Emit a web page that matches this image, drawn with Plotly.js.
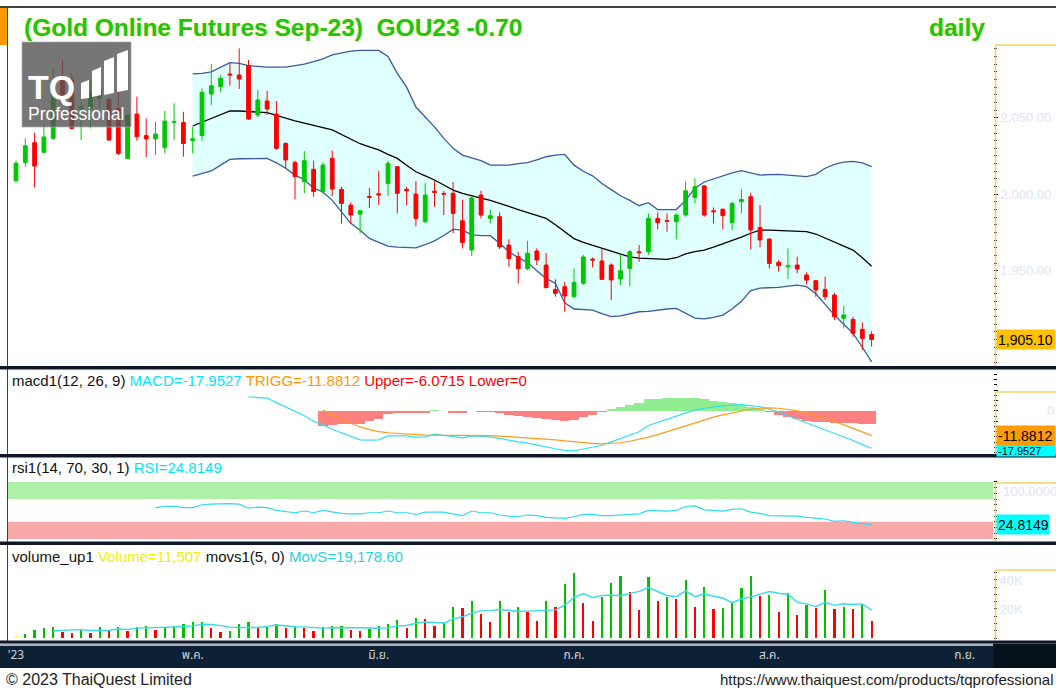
<!DOCTYPE html>
<html><head><meta charset="utf-8">
<script src="https://cdn.plot.ly/plotly-3.0.1.min.js"></script>
<style>html,body{margin:0;padding:0;background:#fff;overflow:hidden}#chart{width:1056px;height:688px}</style>
</head><body><div id="chart"></div>
<script>
// ---------- data ----------
const monthLabels = ["'23","พ.ค.","มิ.ย.","ก.ค.","ส.ค.","ก.ย."];
const monthStartIdx = [0,19,39,60,81,102];

const open = [2008.8,2020.8,2033.7,2027.4,2036.5,2075.7,2074.7,2055.9,2056.1,2062.7,
2062.0,2056.1,2023.4,2052.4,2038.3,2036.1,2030.4,2047.0,2046.8,2035.0,
2038.3,2065.5,2070.3,2078.6,2077.9,2084.0,2051.8,2060.9,2052.4,2033.2,
2020.8,2008.2,2016.3,2001.7,2023.4,2003.2,1992.9,1987.0,1998.6,2000.3,
2007.1,2018.0,2003.2,2000.1,1982.0,2002.0,2000.5,2000.6,1982.6,1963.5,
1999.5,1984.2,1985.3,1966.8,1959.2,1951.3,1962.9,1953.7,1937.8,1939.6,
1933.0,1941.8,1957.6,1956.4,1953.7,1944.6,1951.5,1962.4,1962.4,1984.2,
1982.7,1982.0,1986.4,1997.9,2005.4,1989.2,1990.1,1981.4,1995.1,1998.4,
1978.3,1970.7,1955.5,1952.6,1953.7,1947.2,1943.5,1937.8,1934.1,1918.9,
1918.2,1911.7,1908.3];
const high = [2021.9,2036.5,2040.2,2045.2,2082.3,2087.3,2079.0,2060.5,2074.7,2082.3,
2063.0,2068.1,2052.4,2063.8,2049.6,2047.4,2054.4,2059.4,2053.9,2044.0,
2069.2,2085.1,2077.9,2085.5,2095.3,2087.7,2068.1,2067.5,2060.9,2034.0,
2021.9,2028.2,2021.9,2020.8,2028.5,2004.9,1994.7,1989.7,2004.0,2015.3,
2021.9,2018.4,2004.9,2008.6,2007.5,2008.8,2002.1,2008.0,1996.5,1998.6,
2002.3,1989.7,1988.2,1970.5,1962.4,1969.6,1964.6,1961.6,1944.4,1942.8,
1951.5,1960.3,1958.7,1964.0,1954.8,1960.7,1963.5,1966.8,1987.5,1988.2,
1987.5,1987.5,2008.4,2010.4,2006.0,1991.4,1990.8,1995.1,2003.2,2001.0,
1992.9,1971.2,1957.0,1964.6,1959.2,1948.9,1943.9,1946.1,1935.6,1927.0,
1919.9,1916.2,1910.5];
const low = [2007.5,2018.0,2004.5,2026.7,2035.4,2059.4,2042.4,2035.4,2043.0,2056.1,
2035.0,2025.6,2023.0,2035.0,2024.1,2025.6,2026.7,2035.4,2024.5,2026.7,
2035.0,2058.3,2066.6,2070.9,2068.8,2048.5,2050.2,2051.8,2028.9,2016.9,
1996.6,2000.6,1998.4,2000.1,1998.8,1980.9,1980.9,1974.4,1991.0,1993.0,
1998.8,1987.5,1992.9,1979.0,1981.4,1991.8,1986.4,1974.4,1964.6,1959.6,
1984.2,1981.0,1964.2,1952.6,1941.7,1950.5,1953.7,1938.5,1933.0,1923.2,
1932.5,1940.7,1952.2,1943.9,1930.8,1940.7,1940.0,1955.9,1960.3,1977.0,
1975.5,1970.5,1985.3,1994.0,1985.3,1981.0,1977.0,1976.6,1987.5,1964.0,
1965.3,1951.5,1949.4,1944.6,1948.3,1941.1,1933.0,1930.8,1917.8,1912.3,
1906.9,1898.2,1900.5];
const close = [2020.2,2031.7,2018.4,2037.4,2067.0,2060.5,2043.0,2057.2,2066.0,2068.1,
2035.4,2026.7,2051.8,2037.6,2036.1,2039.4,2047.8,2047.4,2033.2,2036.3,
2066.6,2070.9,2075.7,2077.9,2075.3,2049.2,2061.6,2055.7,2030.0,2022.4,
2011.5,2021.9,2001.7,2019.1,2003.4,1994.0,1986.4,1989.2,1998.0,1999.6,
2020.2,2000.6,2002.3,1984.2,1999.5,2001.2,2000.1,1987.5,1968.5,1997.5,
1986.4,1986.0,1965.7,1958.0,1951.3,1961.4,1957.0,1939.0,1935.2,1933.5,
1942.4,1959.0,1957.0,1944.4,1944.0,1950.0,1962.4,1961.8,1984.2,1981.4,
1982.3,1986.4,2002.2,2004.9,1986.4,1988.6,1986.0,1994.0,1996.6,1976.6,
1970.1,1954.8,1953.3,1953.2,1951.1,1943.9,1937.4,1933.0,1920.0,1921.1,
1909.1,1905.8,1905.1];

const bbStart = 19;
const bbUpper = [2078.6,2079,2080,2083,2086,2085.5,2084,2083.5,2083,2083,
2083,2084,2085,2086.6,2088.5,2091,2092.5,2093.5,2094,2094,
2094,2090,2079,2070,2057,2050.5,2044,2036.5,2030,2025.6,
2024,2022,2019,2019,2019,2020,2020.6,2022.5,2024.5,2025.5,
2026,2019,2015,2012,2007,2003,1999,1996,1992.5,1994.5,
1990,1990,1990,1996,2004,2008,2010,2012,2014,2015.4,
2014,2012.5,2012.8,2013,2012.5,2012,2011.5,2013,2017,2019.5,
2021,2021.5,2020.5,2018];
const bbMiddle = [2044.6,2047,2049.6,2052,2054.4,2054.4,2054,2053.6,2053.3,2051.5,
2049.6,2048,2046.5,2045.2,2043.5,2042,2039,2035.5,2033,2031,
2029,2026,2023.4,2019,2014.7,2012,2009.3,2006,2002.7,2000.6,
1998.8,1997.5,1996,1994.2,1992,1990,1988,1986,1984.2,1980,
1975.5,1971,1968.5,1966.5,1964.5,1962.5,1960.5,1959,1958.2,1958,
1957.6,1957.4,1958.5,1961,1962.5,1963.5,1965.5,1967.5,1970,1972,
1974.5,1976.6,1976.5,1976.2,1976,1975.8,1975.5,1974,1971.5,1968.5,
1966,1963.5,1958.5,1953];
const bbLower = [2011.9,2013.5,2015.2,2019,2022.8,2023.2,2023.4,2023.4,2023.4,2020.5,
2017,2012.5,2009.5,2004,2001.5,1996,1988.5,1981,1976.5,1971.1,
1968.5,1966.1,1965.5,1965.2,1965,1967,1969.5,1973,1977,1976.5,
1973.5,1973,1972.9,1968,1962.4,1958.5,1955.5,1950,1945,1941.7,
1929,1925,1924.5,1924.3,1922,1920,1920.5,1922,1923.2,1923.5,
1924.5,1925,1925.4,1922,1919,1918.5,1919.5,1921,1925,1930,
1937,1938.7,1939,1939.1,1940,1940.6,1939.6,1935,1928,1921,
1915,1909.1,1900,1890.5];

const macdStart = 25;
const macdLine = [6.7,6.5,6.2,4.0,1.8, 0.0,-2.3,-5.0,-6.7,-8.8,
-10.5,-12.2,-13.9,-14.0,-13.9, -12.0,-12.0,-12.0,-12.6,-12.5,
-11.2,-11.8,-12.5,-13.0,-12.0, -12.2,-12.5,-13.2,-14.2,-14.9,
-15.5,-16.5,-17.3,-18.2,-19.0, -19.2,-18.3,-17.5,-16.5,-14.9,
-13.2,-11.5,-10.0,-7.0,-5.5, -3.8,-2.3,-0.8,0.5,1.3,
2.0,2.4,2.8,3.0,2.6, 2.0,0.8,-0.5,-2.3,-4.0,
-5.7,-7.3,-9.0,-10.7,-12.3, -14.2,-16.2,-17.9527];
const triggStart = 33;
const triggLine = [0.5,-2.0,-4.0,-6.0,-7.7, -9.0,-10.0,-10.5,-10.9,-11.2,
-11.4,-11.6,-11.6,-11.6,-11.7, -11.8,-11.8,-11.8,-11.9,-12.1,
-12.4,-12.6,-12.8,-13.1,-13.5, -13.9,-14.4,-14.9,-15.3,-15.6,
-15.8,-15.7,-15.3,-14.6,-13.7, -12.6,-11.4,-10.0,-8.4,-7.0,
-5.6,-4.3,-3.0,-1.9,-0.9, 0.0,0.8,1.3,1.5,1.3,
0.8,0.0,-1.0,-2.2,-3.5, -5.0,-6.6,-8.3,-10.1,-11.8812];
const macdHist = [-7.2,-6.8,-6.5,-6.2,-6.2, -5.0,-3.9,-1.5,-1.1,-0.8,
-1.2,-0.9,0.4,-0.2,-0.8, -1.2,-0.2,-0.4,-0.6,-1.1,
-1.8,-2.3,-2.7,-3.4,-3.8, -4.3,-4.6,-4.3,-3.0,-1.9,
-0.7,0.8,2.1,3.1,3.7, 5.6,5.9,6.2,6.1,6.2,
6.1,5.6,5.0,4.3,3.7, 3.0,1.8,0.7,-0.7,-1.8,
-3.1,-4.0,-4.7,-5.1,-5.5, -5.7,-5.7,-5.9,-6.1,-6.0715];

const rsiStart = 15;
const rsiLine = [55,57,57,55,55, 60,61,62,62,61, 54,56,55,50,48,
46,49,46,50,47, 45,44,44,46,46, 49,46,46,43,47,
47,47,44,41,49, 46,46,42,40,39, 42,41,38,37,36,
39,43,43,41,41, 42,44,44,50,49, 49,50,57,58,51,
50,49,52,53,47, 45,41,41,41,40, 38,36,35,31,32,
29,27,24.8149];

const volumeK = [1.4,2.8,5.5,6.6,7.8,4.4,3.7,6.2,3.7,7.8,
5.5,7.8,5.0,7.8,8.5,5.5,7.8,8.2,9.5,10.8,
11.3,6.9,4.0,4.5,9.4,11.3,6.9,7.8,9.4,6.9,
7.8,6.6,5.0,7.8,8.5,8.6,5.5,5.0,6.2,8.5,
9.6,12.4,6.6,13.5,12.9,8.5,10.1,21.1,20.5,25.3,
16.5,10.8,25.3,17.7,21.1,17.7,11.7,25.3,21.1,37.2,
45.1,24.4,11.7,28.5,38.2,43.0,31.5,19.3,41.8,25.5,
28.5,26.9,40.0,21.6,35.4,20.0,20.8,23.9,34.2,43.0,
29.0,29.9,18.2,30.8,15.9,22.8,20.5,33.1,20.3,21.5,
20.0,22.6,11.507];
const movsStart = 4;
const movsK = [4.82,5.42,5.6,5.74,5.16,5.16,
5.38,6.2,5.96,6.78,6.92,6.92,6.92,7.56,7.9,8.36,
9.52,9.34,8.5,7.5,7.22,7.22,7.22,7.98,8.96,8.46,
7.76,7.7,7.14,6.82,7.14,7.3,7.08,7.08,6.76,6.76,
6.96,8.34,8.66,10.12,11.0,10.78,10.32,13.22,14.62,17.1,
18.7,18.84,19.68,19.12,18.28,18.52,18.7,18.7,19.38,22.6,
28.08,30.62,27.9,29.38,29.58,29.16,30.58,32.1,34.76,32.22,
29.32,28.4,32.54,28.5,30.48,28.78,27.56,24.34,26.86,28.38,
30.18,32.0,30.86,30.18,24.76,23.52,21.64,24.62,22.52,23.64,
23.08,23.5,19.1786];

// ---------- helpers ----------
const W = 1056, H = 688;
const px = x => x / W, py = y => 1 - y / H;
const FONT = 'Liberation Sans, Arial, sans-serif';
const idx = close.map((_, i) => i);
const from = (arr, s) => arr.map((_, k) => k + s);
const last = a => a[a.length - 1];
const fmt = (v, d) => new Intl.NumberFormat('en-US', {minimumFractionDigits: d, maximumFractionDigits: d}).format(v);

const volColors = volumeK.map((v, i) => i === 0 ? '#ffff00' : (v > volumeK[i - 1] ? '#00c000' : '#ff0000'));
const histColors = macdHist.map(v => v >= 0 ? '#90ee90' : '#ff8080');
const bandLine = {color: '#3d5a9e', width: 1.3};
const PRICE_RANGE = [1887.1, 2121.7];

const traces = [
  {type: 'scatter', mode: 'lines', x: from(bbUpper, bbStart), y: bbUpper, line: bandLine, xaxis: 'x', yaxis: 'y', hoverinfo: 'skip'},
  {type: 'scatter', mode: 'lines', x: from(bbLower, bbStart), y: bbLower, line: bandLine, fill: 'tonexty', fillcolor: '#e0ffff', xaxis: 'x', yaxis: 'y', hoverinfo: 'skip'},
  {type: 'scatter', mode: 'lines', x: from(bbMiddle, bbStart), y: bbMiddle, line: {color: '#000', width: 1.3}, xaxis: 'x', yaxis: 'y', hoverinfo: 'skip'},
  {type: 'candlestick', x: idx, open: open, high: high, low: low, close: close, xaxis: 'x', yaxis: 'y6',
   increasing: {line: {color: '#00c800', width: 1}, fillcolor: '#00c800'},
   decreasing: {line: {color: '#ff0000', width: 1}, fillcolor: '#ff0000'},
   whiskerwidth: 0, hoverinfo: 'skip'},
  {type: 'bar', x: from(macdHist, triggStart), y: macdHist, width: 1, marker: {color: histColors, line: {width: 0}}, xaxis: 'x', yaxis: 'y2', hoverinfo: 'skip'},
  {type: 'scatter', mode: 'lines', x: from(macdLine, macdStart), y: macdLine, line: {color: '#2fe0f2', width: 1.2}, xaxis: 'x', yaxis: 'y2', hoverinfo: 'skip'},
  {type: 'scatter', mode: 'lines', x: from(triggLine, triggStart), y: triggLine, line: {color: '#ff9a1a', width: 1.2}, xaxis: 'x', yaxis: 'y2', hoverinfo: 'skip'},
  {type: 'scatter', mode: 'lines', x: from(rsiLine, rsiStart), y: rsiLine, line: {color: '#2fdcec', width: 1.2}, xaxis: 'x', yaxis: 'y3', hoverinfo: 'skip'},
  {type: 'bar', x: idx, y: volumeK, width: 0.24, marker: {color: volColors, line: {width: 0}}, xaxis: 'x', yaxis: 'y4', hoverinfo: 'skip'},
  {type: 'scatter', mode: 'lines', x: from(movsK, movsStart), y: movsK, line: {color: '#35dbe6', width: 1.4}, xaxis: 'x', yaxis: 'y4', hoverinfo: 'skip'}
];

// axis decoration tick positions
const mainMinor = []; for (let v = 1890; v <= 2095; v += 5) mainMinor.push(v);
const rsiTicks = []; for (let v = 0; v <= 100; v += 10) rsiTicks.push(v);
const volTicks = []; for (let v = 0; v <= 45; v += 5) volTicks.push(v);
const faint = {family: FONT, size: 13, color: '#dfe3f5'};

const xDom = [px(8), px(993)];
const layout = {
  width: W, height: H, margin: {l: 0, r: 0, t: 0, b: 0},
  paper_bgcolor: '#ffffff', plot_bgcolor: 'rgba(0,0,0,0)', showlegend: false,
  boxgap: 0.42, bargap: 0, hovermode: false,
  xaxis: {domain: xDom, range: [-0.86, 105.05], anchor: 'y4', showgrid: false, zeroline: false, showline: false,
    ticks: '', tickvals: monthStartIdx, ticktext: monthLabels, ticklabelstandoff: 5,
    tickfont: {family: 'Noto Sans Thai, Tahoma, DejaVu Sans, sans-serif', size: 12, color: '#cfd3da'},
    rangeslider: {visible: false}, fixedrange: true},
  yaxis: {domain: [py(367), py(8)], range: PRICE_RANGE, side: 'right', anchor: 'x', showgrid: false, zeroline: false,
    tickvals: [1950, 2000, 2050], tickformat: ',.2f', ticks: 'outside', ticklen: 4, tickcolor: '#000', tickfont: faint,
    minor: {tickmode: 'array', tickvals: mainMinor, ticks: 'outside', ticklen: 3, tickcolor: '#000'}},
  yaxis5: {overlaying: 'y', side: 'left', anchor: 'x', range: PRICE_RANGE, showgrid: false, zeroline: false,
    tickvals: [1900, 1925, 1950, 1975, 2000, 2025, 2050, 2075, 2100], showticklabels: false, ticks: 'outside', ticklen: 4, tickcolor: '#000'},
  yaxis6: {overlaying: 'y', side: 'right', anchor: 'x', range: PRICE_RANGE, visible: false, showgrid: false, zeroline: false},
  yaxis2: {domain: [py(455), py(370)], range: [-21.2, 19.7], side: 'right', anchor: 'x', showgrid: false, zeroline: false,
    tickvals: [-20, -15, -10, -5, 0, 5, 10], showticklabels: false, ticks: 'outside', ticklen: 4, tickcolor: '#000',
    minor: {dtick: 2.5, ticks: 'outside', ticklen: 3, tickcolor: '#000'}},
  yaxis3: {domain: [py(542), py(458)], range: [-5.3, 142], side: 'right', anchor: 'x', showgrid: false, zeroline: false,
    tickvals: rsiTicks, showticklabels: false, ticks: 'outside', ticklen: 3, tickcolor: '#000'},
  yaxis4: {domain: [py(641), py(545)], range: [-2.07, 64.1], side: 'right', anchor: 'x', showgrid: false, zeroline: false,
    tickvals: volTicks, ticktext: volTicks.map(v => (v === 20 || v === 40) ? v + 'K' : ''),
    ticks: 'outside', ticklen: 3, tickcolor: '#000', tickfont: faint}
};

const rect = (x0, y0, x1, y1, color, layer) => ({type: 'rect', xref: 'paper', yref: 'paper', x0: px(x0), x1: px(x1), y0: py(y1), y1: py(y0), fillcolor: color, line: {width: 0}, layer: layer || 'above'});
const lineP = (x0, y0, x1, y1, color, w) => ({type: 'line', xref: 'paper', yref: 'paper', x0: px(x0), x1: px(x1), y0: py(y0), y1: py(y1), line: {color: color, width: w}, layer: 'above'});
const pathP = (pts, color) => ({type: 'path', xref: 'paper', yref: 'paper', path: 'M' + pts.map(p => px(p[0]).toFixed(5) + ',' + py(p[1]).toFixed(5)).join(' L') + ' Z', fillcolor: color, line: {width: 0}, layer: 'above'});
const YEL = '#f2d264';
layout.shapes = [
  {type: 'rect', xref: 'paper', yref: 'y3', x0: xDom[0], x1: xDom[1], y0: 70, y1: 100, fillcolor: '#aef0a6', line: {width: 0}, layer: 'below'},
  {type: 'rect', xref: 'paper', yref: 'y3', x0: xDom[0], x1: xDom[1], y0: 0, y1: 30, fillcolor: '#f7a9a9', line: {width: 0}, layer: 'below'},
  // bottom date band (below so tick labels stay on top)
  rect(0, 643.5, 993, 646, '#aab2bd', 'below'), rect(0, 646, 993, 668, '#0c2135', 'below'), rect(993, 643.5, 1056, 668, '#07121d', 'below'),
  lineP(0, 7, 1056, 7, '#000', 1.5),
  lineP(7.5, 8, 7.5, 641, '#444', 1),
  rect(0, 8, 7, 45, '#ff9900'),
  // yellow axis frames
  lineP(995.5, 45, 995.5, 366, YEL, 1.5), lineP(995.5, 45, 1056, 45, YEL, 1.5),
  lineP(995.5, 392, 995.5, 454, YEL, 1.5), lineP(995.5, 392, 1056, 392, YEL, 1.5),
  lineP(995.5, 483, 995.5, 541, YEL, 1.5), lineP(995.5, 483, 1056, 483, YEL, 1.5),
  lineP(995.5, 570, 995.5, 640, YEL, 1.5), lineP(995.5, 570, 1056, 570, YEL, 1.5),
  // separators
  rect(0, 366, 1056, 369.5, '#101828'), rect(0, 454, 1056, 457.5, '#101828'),
  rect(0, 541.5, 1056, 545, '#101828'), rect(0, 640.5, 1056, 643.5, '#101828'),
  // logo
  {type: 'rect', xref: 'paper', yref: 'paper', x0: px(22), x1: px(131), y0: py(127), y1: py(42), fillcolor: 'rgba(84,84,84,0.8)', line: {color: 'rgba(170,170,170,0.7)', width: 1}, layer: 'above'},
  pathP([[81, 99], [89, 98], [89, 80], [81, 83]], '#ffffff'),
  pathP([[92, 97], [101, 95], [101, 67], [92, 71]], '#ffffff'),
  pathP([[104, 95], [114, 93], [114, 57], [104, 61]], '#ffffff'),
  pathP([[117, 92], [128, 90], [128, 50], [117, 54]], '#ffffff')
];

const change = (last(close) - close[close.length - 2]).toFixed(2);
const ann = (x, y, text, size, color, anchor, extra) => Object.assign({xref: 'paper', yref: 'paper', x: px(x), y: py(y), text: text, showarrow: false, xanchor: anchor || 'left', yanchor: 'middle', font: {family: FONT, size: size, color: color}}, extra || {});
const box = (yref, yv, text, bg, w, extra) => Object.assign({xref: 'paper', yref: yref, x: px(995.5), y: yv, text: text, showarrow: false, xanchor: 'left', yanchor: 'middle', align: 'left', bgcolor: bg, width: w, height: 16, borderpad: 1, font: {family: FONT, size: 14, color: '#000'}}, extra || {});
const span = (c, t) => '<span style="color:' + c + '">' + t + '</span>';
const titleFont = {family: FONT, size: 24.5, color: '#1ec31e', shadow: '0px 0px 1.5px #f0f000'};

layout.annotations = [
  ann(22, 28, '<b>(Gold Online Futures Sep-23)&nbsp; GOU23 ' + change + '</b>', 24, '#1ec31e', 'left', {font: titleFont}),
  ann(987, 28, '<b>daily</b>', 24, '#1ec31e', 'right', {font: titleFont}),
  ann(10, 380, 'macd1(12, 26, 9) ' + span('#00e5ff', 'MACD=' + last(macdLine).toFixed(4)) + ' ' + span('#ff9900', 'TRIGG=' + last(triggLine).toFixed(4)) + ' ' + span('#ff0000', 'Upper=' + last(macdHist).toFixed(4) + ' Lower=0'), 15, '#111'),
  ann(10, 467, 'rsi1(14, 70, 30, 1) ' + span('#00e5ff', 'RSI=' + last(rsiLine).toFixed(4)), 15, '#111'),
  ann(10, 556, 'volume_up1 ' + span('#f0f000', 'Volume=' + fmt(last(volumeK) * 1000, 0)) + ' movs1(5, 0) ' + span('#22d3e6', 'MovS=' + fmt(last(movsK) * 1000, 2)), 15, '#111'),
  box('y', last(close), fmt(last(close), 2), '#ffc000', 56, {height: 17}),
  {xref: 'paper', yref: 'y2', x: 1, y: 0, text: '0', showarrow: false, xanchor: 'right', yanchor: 'middle', font: faint},
  {xref: 'paper', yref: 'y3', x: px(1001), y: 100, yshift: -10, text: '100.0000', showarrow: false, xanchor: 'left', yanchor: 'middle', font: faint},
  box('y2', last(macdLine), last(macdLine).toFixed(4), '#00ffff', 56, {yshift: -2, height: 9, font: {family: FONT, size: 11, color: '#000'}}),
  box('y2', last(triggLine), last(triggLine).toFixed(4), '#ff9c00', 56, {height: 17}),
  box('y3', last(rsiLine), last(rsiLine).toFixed(4), '#00ffff', 50, {height: 17}),
  ann(4, 679, '© 2023 ThaiQuest Limited', 16, '#222'),
  ann(1056, 679, 'https://www.thaiquest.com/products/tqprofessional', 15, '#222', 'right'),
  ann(26, 87, '<b>TQ</b>', 34, '#ffffff'),
  ann(26, 114, 'Professional', 17.5, '#ffffff')
];

Plotly.newPlot('chart', traces, layout, {staticPlot: true, displayModeBar: false});
</script></body></html>
